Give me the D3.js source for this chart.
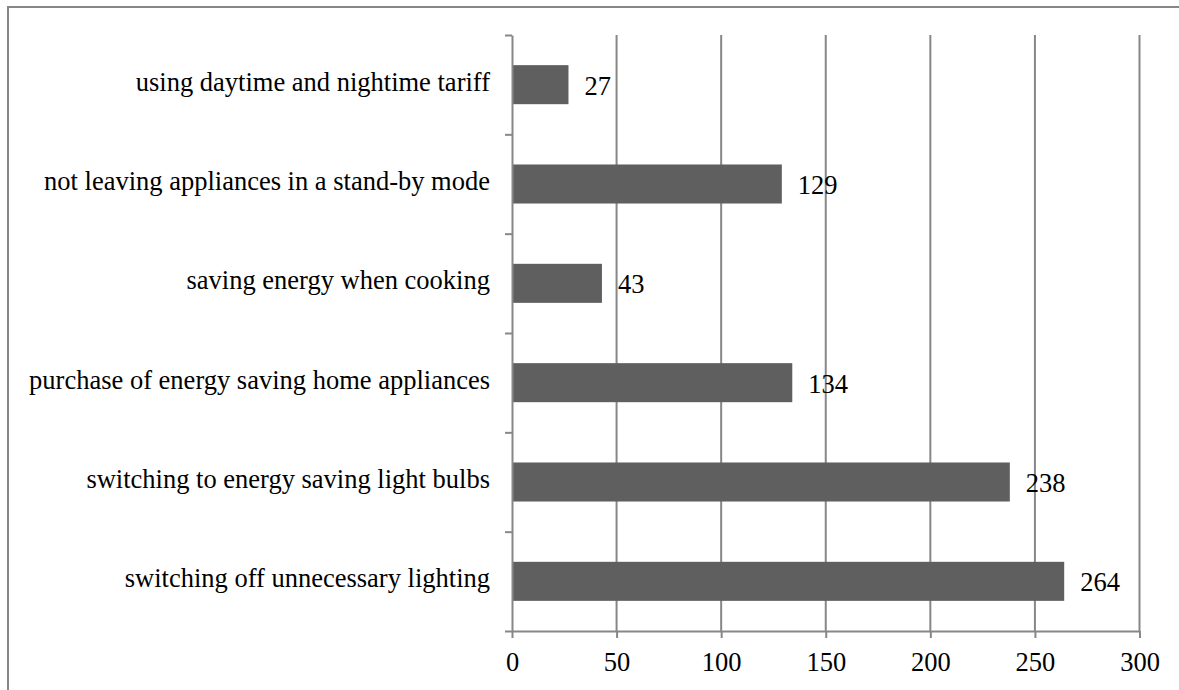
<!DOCTYPE html>
<html>
<head>
<meta charset="utf-8">
<script src="https://cdn.jsdelivr.net/npm/d3@7"></script>
<style>
  body { margin: 0; background: #fff; }
  svg text { font-family: "Liberation Serif", "Times New Roman", Times, serif; fill: #000; }
</style>
</head>
<body>
<svg></svg>
<script>
var width = 1179;
var height = 690;

// data, top to bottom as in the chart
var categories = [
  "using daytime and nightime tariff",
  "not leaving appliances in a stand-by mode",
  "saving energy when cooking",
  "purchase of energy saving home appliances",
  "switching to energy saving light bulbs",
  "switching off unnecessary lighting"
];
var values = [27, 129, 43, 134, 238, 264];
var xTicks = [0, 50, 100, 150, 200, 250, 300];

var font = '"Liberation Serif", "Times New Roman", serif';
var fontSize = '26.5px';

var svg = d3.select('svg')
    .attr('width', width)
    .attr('height', height);

// outer frame (right/bottom edges fall outside the picture)
svg.append('rect')
    .attr('x', 8).attr('y', 7)
    .attr('width', 1200).attr('height', 720)
    .attr('fill', 'none')
    .attr('stroke', '#878787')
    .attr('stroke-width', 2);

var x = d3.scaleLinear().domain([0, 300]).range([512, 1139.5]);
var y = d3.scaleBand().domain(categories).range([35, 631])
    .paddingInner(0.607).paddingOuter(0.3035);

// vertical gridlines
svg.append('g').selectAll('line')
    .data(xTicks.slice(1))
    .enter().append('line')
    .attr('x1', d => x(d)).attr('x2', d => x(d))
    .attr('y1', 35).attr('y2', 631)
    .attr('stroke', '#878787')
    .attr('stroke-width', 2);

// bars
svg.append('g').selectAll('rect')
    .data(values)
    .enter().append('rect')
    .attr('x', x(0))
    .attr('y', (d, i) => y(categories[i]))
    .attr('width', d => x(d) - x(0))
    .attr('height', y.bandwidth())
    .attr('fill', '#5f5f5f');

// value labels
svg.append('g').selectAll('text')
    .data(values)
    .enter().append('text')
    .attr('x', d => x(d) + 16)
    .attr('y', (d, i) => y(categories[i]) + y.bandwidth() / 2 + 10)
    .attr('font-family', font)
    .attr('font-size', fontSize)
    .text(d => d);

// y axis: line + ticks at band edges
var yEdges = d3.scaleLinear().domain([0, 6]).range([35, 631]);
var yAxis = svg.append('g')
    .attr('transform', 'translate(512,0)')
    .call(d3.axisLeft(yEdges).ticks(6).tickSize(7).tickSizeOuter(0).tickFormat(''));
yAxis.selectAll('line, path').attr('stroke', '#878787').attr('stroke-width', 2);

// category labels
svg.append('g').selectAll('text')
    .data(categories)
    .enter().append('text')
    .attr('x', 490)
    .attr('y', d => y(d) + y.bandwidth() / 2 + 6)
    .attr('text-anchor', 'end')
    .attr('font-family', font)
    .attr('font-size', fontSize)
    .text(d => d);

// x axis
var xAxis = svg.append('g')
    .attr('transform', 'translate(0,631)')
    .attr('font-family', font)
    .attr('font-size', fontSize)
    .call(d3.axisBottom(x).tickValues(xTicks).tickSize(7).tickSizeOuter(0));
xAxis.attr('font-family', font).attr('font-size', fontSize);
xAxis.selectAll('line, path').attr('stroke', '#878787').attr('stroke-width', 2);
xAxis.selectAll('text')
    .attr('y', 40).attr('dy', 0)
    .attr('fill', '#000');
</script>
</body>
</html>
